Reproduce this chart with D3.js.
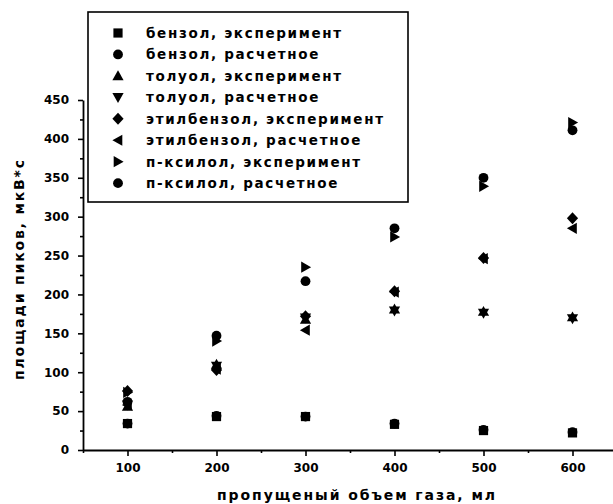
<!DOCTYPE html>
<html>
<head>
<meta charset="utf-8">
<script src="https://cdn.jsdelivr.net/npm/d3@7"></script>
<style>
  html, body { margin: 0; padding: 0; background: #fff; }
  svg { display: block; }
  text { font-family: "DejaVu Sans", "Liberation Sans", Arial, sans-serif; font-weight: bold; fill: #000; }
</style>
</head>
<body>
<svg id="chart" width="613" height="504"></svg>
<script>
// ---- data ----
const volumes = [100, 200, 300, 400, 500, 600];
const benzeneExp   = [34, 43, 43, 33, 25, 22];
const benzeneCalc  = [34, 44, 43, 34, 26, 23];
const tolueneExp   = [56, 110, 168, 181, 178, 171];
const tolueneCalc  = [58, 108, 170, 179, 176, 169];
const ethylExp     = [76, 103, 172, 204, 247, 298];
const ethylCalc    = [58, 104, 154, 203, 246, 285];
const xyleneExp    = [74, 140, 235, 274, 339, 421];
const xyleneCalc   = [62, 147, 217, 285, 350, 411];
const seriesNames = [
  "бензол, эксперимент", "бензол, расчетное",
  "толуол, эксперимент", "толуол, расчетное",
  "этилбензол, эксперимент", "этилбензол, расчетное",
  "п-ксилол, эксперимент", "п-ксилол, расчетное"
];
const seriesShapes = ["square", "circle", "triUp", "triDown", "diamond", "triLeft", "triRight", "circle"];
const seriesValues = [benzeneExp, benzeneCalc, tolueneExp, tolueneCalc, ethylExp, ethylCalc, xyleneExp, xyleneCalc];
const xMajorTicks = [100, 200, 300, 400, 500, 600];
const xMinorTicks = [50, 150, 250, 350, 450, 550, 650];
const yMajorTicks = [0, 50, 100, 150, 200, 250, 300, 350, 400, 450];
const yMinorTicks = [25, 75, 125, 175, 225, 275, 325, 375, 425];
const xTitle = "пропущеный объем газа, мл";
const yTitle = "площади пиков, мкВ*с";

// ---- layout ----
const svg = d3.select("#chart");
const x = d3.scaleLinear().domain([50, 650]).range([83, 617]);
const y = d3.scaleLinear().domain([0, 450]).range([450, 100]);

function shapePath(type) {
  switch (type) {
    case "square":  return "M-4.6,-4.6h9.2v9.2h-9.2Z";
    case "circle":  return d3.symbol(d3.symbolCircle, Math.PI * 4.9 * 4.9)();
    case "triUp":   return "M0,-5.6L5.6,4.3L-5.6,4.3Z";
    case "triDown": return "M0,5.6L5.6,-4.3L-5.6,-4.3Z";
    case "diamond": return "M0,-6L5.6,0L0,6L-5.6,0Z";
    case "triLeft": return "M-5.6,0L4.3,-5.6L4.3,5.6Z";
    case "triRight":return "M5.6,0L-4.3,-5.6L-4.3,5.6Z";
  }
}

// axes: minor ticks first
svg.append("g").attr("transform", "translate(0,450)")
  .call(d3.axisBottom(x).tickValues(xMinorTicks).tickSize(3).tickFormat(""))
  .call(g => g.select(".domain").remove());
svg.append("g").attr("transform", "translate(83,0)")
  .call(d3.axisLeft(y).tickValues(yMinorTicks).tickSize(3).tickFormat(""))
  .call(g => g.select(".domain").remove());

const xAxis = svg.append("g").attr("transform", "translate(0,450)")
  .call(d3.axisBottom(x).tickValues(xMajorTicks).tickSize(6).tickPadding(7).tickSizeOuter(0));
const yAxis = svg.append("g").attr("transform", "translate(83,0)")
  .call(d3.axisLeft(y).tickValues(yMajorTicks).tickSize(5).tickPadding(9).tickSizeOuter(0));

svg.selectAll(".tick line").attr("stroke", "#000").attr("stroke-width", 1.6);
svg.selectAll(".domain").attr("stroke", "#000").attr("stroke-width", 1.8);
svg.selectAll(".tick text").attr("font-size", 12)
  .style("font-family", "'DejaVu Sans', sans-serif").style("font-weight", "bold");

// axis titles
svg.append("text").attr("x", 356).attr("y", 500)
  .attr("text-anchor", "middle").attr("font-size", 14)
  .attr("textLength", 278).attr("lengthAdjust", "spacing")
  .text(xTitle);
svg.append("text").attr("transform", "translate(24,270) rotate(-90)")
  .attr("text-anchor", "middle").attr("font-size", 14)
  .attr("textLength", 220).attr("lengthAdjust", "spacing")
  .text(yTitle);

// data points
seriesValues.forEach((vals, i) => {
  svg.append("g").selectAll("path").data(vals).join("path")
    .attr("d", shapePath(seriesShapes[i]))
    .attr("transform", (d, j) => `translate(${x(volumes[j])},${y(d)})`)
    .attr("fill", "#000");
});

// legend
const legend = svg.append("g");
legend.append("rect").attr("x", 88).attr("y", 12).attr("width", 320).attr("height", 190)
  .attr("fill", "#fff").attr("stroke", "#000").attr("stroke-width", 1.6);
const rows = legend.selectAll("g.row").data(seriesNames).join("g").attr("class", "row")
  .attr("transform", (d, i) => `translate(0,${33 + i * 21.45})`);
rows.append("path").attr("d", (d, i) => shapePath(seriesShapes[i]))
  .attr("transform", "translate(118,0)").attr("fill", "#000");
const texts = rows.append("text").attr("x", 146).attr("y", 5).attr("font-size", 13.5).text(d => d);
// fit letter spacing so the longest row matches the reference width
const ref = texts.filter((d, i) => i === 4).node();
const natural = ref.getComputedTextLength();
const spacing = (237 - natural) / (seriesNames[4].length - 1);
texts.attr("letter-spacing", spacing);
</script>
</body>
</html>
